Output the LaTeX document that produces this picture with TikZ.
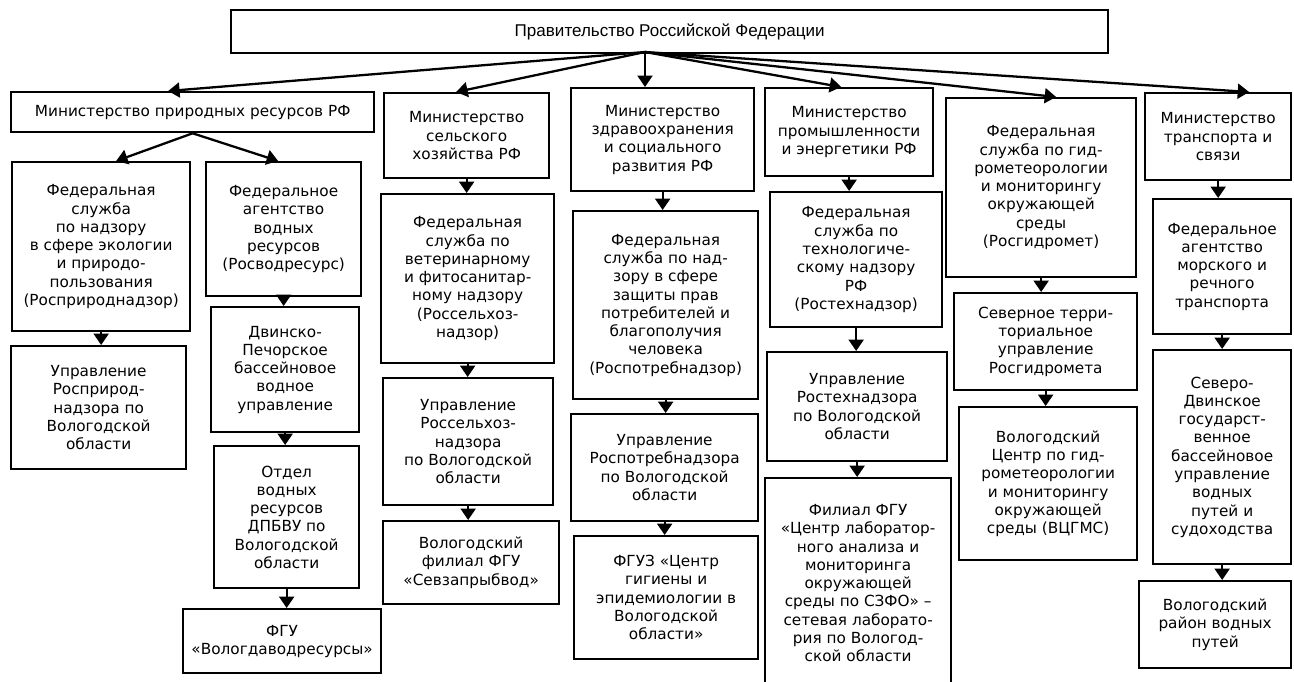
\documentclass[tikz,border=0pt]{standalone}
\usepackage{fontspec}
\setmainfont{DejaVu Sans}
\newfontfamily\govfont{Liberation Sans}
\usetikzlibrary{arrows.meta, calc}

\begin{document}
\begin{tikzpicture}[
    x=0.02cm, y=-0.02cm,
    orgbox/.style={rectangle, draw, line width=1.3pt, anchor=north west, inner sep=0pt, align=center, font=\fontsize{8.7}{10.4}\selectfont},
    boxsize/.style 2 args={minimum width=#1*0.02cm, minimum height=#2*0.02cm},
    arrow/.style={-{Triangle[width=8.5pt,length=6.5pt]}, line width=1.3pt}
]
\useasboundingbox (0,0) rectangle (1294,681);

\node[orgbox, boxsize={877}{43}, font=\govfont\fontsize{9.7}{11}\selectfont] (gov) at (230,9) {Правительство Российской Федерации};
\coordinate (hub) at (645,52);

% column 1: natural resources
\node[orgbox, boxsize={363}{40}] (mpr) at (10,91) {Министерство природных ресурсов РФ};
\node[orgbox, boxsize={178}{169}] (rpn) at (11,161) {Федеральная\\служба\\по надзору\\в сфере экологии\\и природо-\\пользования\\(Росприроднадзор)};
\node[orgbox, boxsize={175}{123}] (rpnupr) at (10,345) {Управление\\Росприрод-\\надзора по\\Вологодской\\области};
\node[orgbox, boxsize={155}{134}] (rvr) at (205,161) {Федеральное\\агентство\\водных\\ресурсов\\(Росводресурс)};
\node[orgbox, boxsize={148}{125}] (dpbvu) at (210,306) {Двинско-\\Печорское\\бассейновое\\водное\\управление};
\node[orgbox, boxsize={145}{142}] (otdel) at (213,445) {Отдел\\водных\\ресурсов\\ДПБВУ по\\Вологодской\\области};
\node[orgbox, boxsize={198}{64}] (vvr) at (182,608) {ФГУ\\«Вологдаводресурсы»};

% column 2: agriculture
\node[orgbox, boxsize={165}{85}] (msh) at (383,92) {Министерство\\сельского\\хозяйства РФ};
\node[orgbox, boxsize={173}{169}] (rsh) at (380,193) {Федеральная\\служба по\\ветеринарному\\и фитосанитар-\\ному надзору\\(Россельхоз-\\надзор)};
\node[orgbox, boxsize={170}{127}] (rshupr) at (382,377) {Управление\\Россельхоз-\\надзора\\по Вологодской\\области};
\node[orgbox, boxsize={176}{83}] (szrv) at (382,520) {Вологодский\\филиал ФГУ\\«Севзапрыбвод»};

% column 3: health
\node[orgbox, boxsize={183}{103}] (mzsr) at (570,87) {Министерство\\здравоохранения\\и социального\\развития РФ};
\node[orgbox, boxsize={185}{188}] (rpt) at (572,210) {Федеральная\\служба по над-\\зору в сфере\\защиты прав\\потребителей и\\благополучия\\человека\\(Роспотребнадзор)};
\node[orgbox, boxsize={187}{107}] (rptupr) at (570,413) {Управление\\Роспотребнадзора\\по Вологодской\\области};
\node[orgbox, boxsize={184}{123}] (fguz) at (573,535) {ФГУЗ «Центр\\гигиены и\\эпидемиологии в\\Вологодской\\области»};

% column 4: industry
\node[orgbox, boxsize={168}{88}] (mpe) at (764,87) {Министерство\\промышленности\\и энергетики РФ};
\node[orgbox, boxsize={172}{135}] (rtn) at (769,191) {Федеральная\\служба по\\технологиче-\\скому надзору\\РФ\\(Ростехнадзор)};
\node[orgbox, boxsize={180}{109}] (rtnupr) at (766,351) {Управление\\Ростехнадзора\\по Вологодской\\области};
\node[orgbox, boxsize={186}{210}] (clam) at (764,477) {Филиал ФГУ\\«Центр лаборатор-\\ного анализа и\\мониторинга\\окружающей\\среды по СЗФО» –\\сетевая лаборато-\\рия по Вологод-\\ской области};

% column 5: hydrometeorology
\node[orgbox, boxsize={190}{179}] (rgm) at (945,97) {Федеральная\\служба по гид-\\рометеорологии\\и мониторингу\\окружающей\\среды\\(Росгидромет)};
\node[orgbox, boxsize={183}{97}] (sutgm) at (953,292) {Северное терри-\\ториальное\\управление\\Росгидромета};
\node[orgbox, boxsize={178}{153}] (vcgms) at (958,406) {Вологодский\\Центр по гид-\\рометеорологии\\и мониторингу\\окружающей\\среды (ВЦГМС)};

% column 6: transport
\node[orgbox, boxsize={146}{87}] (mtr) at (1144,92) {Министерство\\транспорта и\\связи};
\node[orgbox, boxsize={138}{135}] (morf) at (1152,198) {Федеральное\\агентство\\морского и\\речного\\транспорта};
\node[orgbox, boxsize={138}{214}] (sdgbu) at (1152,349) {Северо-\\Двинское\\государст-\\венное\\бассейновое\\управление\\водных\\путей и\\судоходства};
\node[orgbox, boxsize={152}{87}] (vrvp) at (1138,580) {Вологодский\\район водных\\путей};

% government to ministries and services
\draw[arrow] (hub) -- ([xshift=-0.49cm]mpr.north);
\draw[arrow] (hub) -- ([xshift=-0.21cm]msh.north);
\draw[arrow] (hub) -- (hub |- mzsr.north);
\draw[arrow] (hub) -- ([xshift=-0.16cm]mpe.north);
\draw[arrow] (hub) -- ([xshift=0.3cm]rgm.north);
\draw[arrow] (hub) -- ([xshift=0.62cm]mtr.north);

\draw[arrow] (mpr.south) -- ([xshift=0.3cm]rpn.north);
\draw[arrow] (mpr.south) -- ([xshift=-0.11cm]rvr.north);

% chains
\draw[arrow] (rpn.south) -- (rpn.south |- rpnupr.north);
\draw[arrow] (rvr.south) -- (rvr.south |- dpbvu.north);
\draw[arrow] (dpbvu.south) -- (dpbvu.south |- otdel.north);
\draw[arrow] (otdel.south) -- (otdel.south |- vvr.north);
\draw[arrow] (msh.south) -- (msh.south |- rsh.north);
\draw[arrow] (rsh.south) -- (rsh.south |- rshupr.north);
\draw[arrow] (rshupr.south) -- (rshupr.south |- szrv.north);
\draw[arrow] (mzsr.south) -- (mzsr.south |- rpt.north);
\draw[arrow] (rpt.south) -- (rpt.south |- rptupr.north);
\draw[arrow] (rptupr.south) -- (rptupr.south |- fguz.north);
\draw[arrow] (mpe.south) -- (mpe.south |- rtn.north);
\draw[arrow] (rtn.south) -- (rtn.south |- rtnupr.north);
\draw[arrow] (rtnupr.south) -- (rtnupr.south |- clam.north);
\draw[arrow] (rgm.south) -- (rgm.south |- sutgm.north);
\draw[arrow] (sutgm.south) -- (sutgm.south |- vcgms.north);
\draw[arrow] (mtr.south) -- (mtr.south |- morf.north);
\draw[arrow] (morf.south) -- (morf.south |- sdgbu.north);
\draw[arrow] (sdgbu.south) -- (sdgbu.south |- vrvp.north);

\end{tikzpicture}
\end{document}
